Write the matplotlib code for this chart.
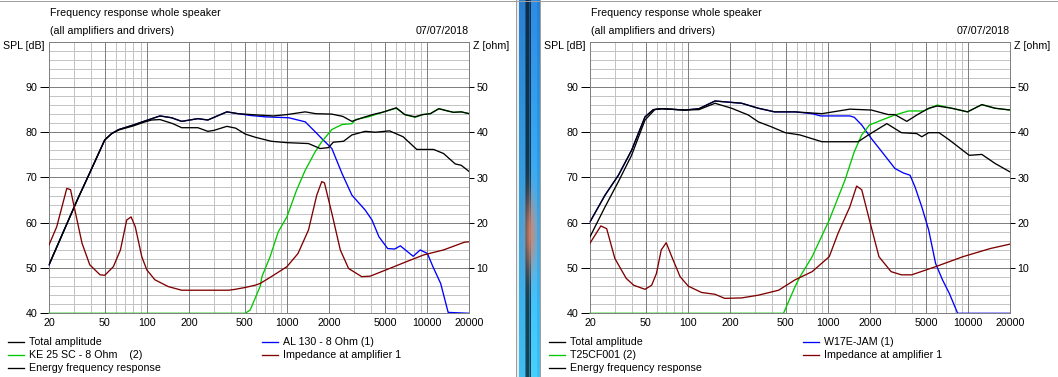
import matplotlib.pyplot as plt
from matplotlib.lines import Line2D
from matplotlib.ticker import NullLocator
import numpy as np

plt.rcParams['font.family'] = ['Liberation Sans', 'DejaVu Sans']
plt.rcParams['font.size'] = 7.7

W, H = 1058, 377

# ---------- left panel: AL 130 woofer + KE 25 SC tweeter ----------
L_total_f = [20, 26, 32, 38, 50, 56, 63, 80, 97, 124, 150, 177, 231, 272, 372, 447, 620, 800,
             1000, 1348, 1600, 2089, 2500, 2904, 3300, 3615, 4200, 4788, 5500, 6021, 6922, 8200,
             9300, 10540, 12130, 14000, 15440, 17500, 20000]
L_total_db = [50.7, 58.8, 65.2, 70.2, 78.3, 79.7, 80.6, 81.6, 82.5, 83.6, 83.2, 82.4, 83.0, 82.7,
              84.5, 84.1, 83.8, 83.6, 83.9, 84.5, 84.1, 84.0, 83.5, 82.4, 83.0, 83.4, 84.0, 84.4,
              85.0, 85.4, 83.9, 83.4, 83.9, 84.1, 85.2, 84.7, 84.4, 84.5, 84.1]

L_energy_f = [20, 26, 32, 38, 50, 56, 63, 80, 97, 108, 124, 153, 177, 231, 272, 300, 372, 430,
              503, 592, 773, 998, 1423, 1723, 1975, 2140, 2530, 2904, 3615, 4275, 5390, 6740,
              8430, 11120, 13100, 15870, 17500, 20000]
L_energy_db = [50.7, 58.8, 65.2, 70.2, 78.3, 79.7, 80.5, 81.4, 82.3, 82.7, 82.8, 81.9, 81.0, 81.0,
               80.2, 80.4, 81.3, 80.9, 79.6, 78.9, 78.0, 77.7, 77.5, 76.4, 76.6, 77.8, 78.0, 79.4,
               80.2, 80.0, 80.3, 79.0, 76.2, 76.2, 75.3, 73.0, 72.7, 71.3]

L_woofer_f = [20, 26, 32, 38, 50, 56, 63, 80, 97, 124, 150, 177, 231, 272, 372, 447, 550, 698,
              1028, 1348, 1589, 1770, 2089, 2468, 2904, 3615, 4042, 4530, 5230, 5860, 6440, 7950,
              8930, 10050, 11000, 12490, 14130, 20000]
L_woofer_db = [50.7, 58.8, 65.2, 70.2, 78.3, 79.7, 80.6, 81.6, 82.5, 83.6, 83.2, 82.4, 83.0, 82.7,
               84.5, 84.1, 83.7, 83.4, 83.2, 82.3, 80.1, 78.6, 76.4, 70.9, 66.1, 62.8, 60.6, 56.9,
               54.3, 54.2, 54.9, 52.6, 54.0, 53.2, 50.3, 46.6, 40.2, 40.0]

L_tweeter_f = [20, 502, 545, 592, 644, 662, 757, 866, 998, 1170, 1348, 1589, 1770, 2089, 2468,
               2904, 3080, 3810, 4788, 6021, 6922, 8200, 9300, 10540, 12130, 14000, 15440, 17500, 20000]
L_tweeter_db = [40.0, 40.0, 40.7, 43.3, 46.0, 48.1, 52.5, 58.0, 61.3, 67.2, 71.6, 75.7, 77.9, 80.6,
                81.7, 81.9, 82.8, 83.4, 84.4, 85.3, 83.9, 83.3, 83.9, 84.1, 85.2, 84.7, 84.4, 84.5, 84.1]

L_imp_f = [20, 22.7, 26.8, 28.5, 30.6, 34.4, 39.1, 46.3, 50, 57.6, 64.7, 71.7, 77.1, 82.6, 91.9,
           99.8, 114, 142, 177, 246, 383, 427, 502, 592, 644, 773, 998, 1197, 1423, 1630, 1770,
           1850, 2089, 2400, 2750, 3410, 3920, 5390, 7110, 9460, 13100, 18440, 20000]
L_imp_ohm = [15.1, 19.1, 27.6, 27.3, 22.8, 15.5, 10.7, 8.5, 8.4, 10.3, 14.0, 20.6, 21.3, 19.1, 12.5,
             9.6, 7.4, 5.9, 5.1, 5.1, 5.1, 5.3, 5.7, 6.2, 6.6, 8.1, 10.3, 13.2, 18.4, 26.1, 29.1,
             28.8, 22.1, 14.0, 9.9, 8.1, 8.2, 9.9, 11.4, 12.9, 14.0, 15.7, 15.8]

# ---------- right panel: W17E-JAM woofer + T25CF001 tweeter ----------
R_total_f = [20, 25.6, 31.9, 39.6, 49.4, 56.7, 65, 95, 120, 156, 242, 318, 416, 582, 905, 1430,
             2040, 2690, 3000, 3650, 4300, 5230, 6020, 7640, 9900, 12530, 15580, 20000]
R_total_db = [60.2, 66.1, 70.5, 76.0, 83.4, 85.0, 85.2, 84.9, 85.2, 86.9, 86.4, 85.3, 84.5, 84.5,
              84.1, 85.1, 84.9, 83.9, 83.9, 82.4, 83.8, 85.3, 85.8, 85.3, 84.5, 86.1, 85.3, 84.9]

R_energy_f = [20, 25.6, 31.9, 39.6, 49.4, 58, 65, 95, 120, 156, 205, 270, 318, 394, 495, 631, 905,
              1640, 1940, 2630, 3340, 4300, 4670, 5230, 6200, 7340, 10180, 12530, 15580, 20000]
R_energy_db = [56.9, 63.5, 69.1, 74.9, 82.7, 85.0, 85.2, 84.9, 85.0, 86.4, 85.3, 83.8, 82.3, 81.2,
               79.9, 79.4, 77.9, 77.9, 79.4, 81.9, 79.9, 79.7, 79.0, 79.9, 79.9, 78.3, 74.9, 75.1,
               73.1, 71.2]

R_woofer_f = [20, 25.6, 31.9, 39.6, 49.4, 56.7, 65, 95, 120, 156, 242, 318, 416, 582, 770, 886,
              1430, 1540, 1740, 2040, 2420, 3000, 3450, 3850, 4180, 4670, 5230, 5860, 6560, 7340,
              8420, 20000]
R_woofer_db = [60.2, 66.1, 70.5, 76.0, 83.4, 85.0, 85.2, 84.9, 85.2, 86.9, 86.4, 85.3, 84.5, 84.5,
               84.1, 83.6, 83.6, 83.3, 81.6, 78.6, 75.7, 72.0, 71.0, 70.5, 67.9, 63.5, 58.4, 51.0,
               47.4, 44.4, 40.0, 40.0]

R_tweeter_f = [20, 481, 582, 631, 770, 1020, 1320, 1540, 1740, 1975, 2420, 3000, 3750, 4800, 6020,
               7640, 9900, 12530, 15580, 20000]
R_tweeter_db = [40.0, 40.0, 45.9, 48.1, 52.5, 60.6, 69.4, 75.7, 79.4, 81.6, 82.7, 83.8, 84.7, 84.7,
                86.0, 85.3, 84.5, 86.1, 85.3, 84.9]

R_imp_f = [20, 23.9, 26.3, 30.1, 36.3, 41, 49.4, 55.1, 59.6, 64.5, 70, 76.7, 87.9, 100.6, 125,
           156, 183, 242, 318, 444, 582, 770, 1020, 1180, 1430, 1600, 1740, 1975, 2310, 2820,
           3340, 3960, 5860, 9170, 14360, 20000]
R_imp_ohm = [15.5, 19.3, 18.7, 12.1, 7.7, 6.2, 5.3, 6.2, 8.8, 14.0, 15.6, 12.5, 8.1, 6.0, 4.6,
             4.2, 3.3, 3.4, 4.0, 5.1, 7.4, 9.2, 12.5, 17.7, 23.5, 28.1, 27.3, 20.6, 12.5, 9.2,
             8.5, 8.5, 10.3, 12.5, 14.3, 15.3]

freq_ticks = [20, 50, 100, 200, 500, 1000, 2000, 5000, 10000, 20000]
freq_minor = [30, 40, 60, 70, 80, 90, 300, 400, 600, 700, 800, 900,
              3000, 4000, 6000, 7000, 8000, 9000]
spl_ticks = [40, 50, 60, 70, 80, 90]
z_ticks = [10, 20, 30, 40, 50]

GREEN = '#00c800'
BLUE = '#0000ff'
RED = '#800000'
DARK = '#808080'
LIGHT = '#c4c4c4'
PX = 0.72


def fx(x):
    return x / W


def fy(y):
    return 1 - y / H


def draw_panel(fig, x0, total, energy, woofer, tweeter, imp, names):
    ax = fig.add_axes([fx(x0), fy(313.3), 420.3 / W, (313.3 - 41.7) / H])
    ax.set_xscale('log')
    ax.set_xlim(20, 20000)
    ax.set_ylim(40, 100)

    for f in freq_minor:
        ax.axvline(f, color=LIGHT, lw=PX, zorder=0)
    for f in freq_ticks[1:-1]:
        ax.axvline(f, color=DARK, lw=PX, zorder=0.5)
    for v in range(42, 100, 2):
        if v % 10:
            ax.axhline(v, color=LIGHT, lw=PX, zorder=0)
    for v in spl_ticks[1:]:
        ax.axhline(v, color=DARK, lw=PX, zorder=0.5)
    for s in ax.spines.values():
        s.set_color(DARK)
        s.set_linewidth(PX)

    ax.set_xticks(freq_ticks)
    ax.set_xticklabels([str(t) for t in freq_ticks])
    ax.xaxis.set_minor_locator(NullLocator())
    ax.tick_params(axis='x', length=0, pad=3.3)
    ax.set_yticks(spl_ticks)
    ax.yaxis.set_minor_locator(NullLocator())
    ax.tick_params(axis='y', length=6.8, width=PX, color='black', pad=1.5)

    lw = 0.95
    ax.plot(*woofer, color=BLUE, lw=lw, zorder=2, clip_on=False)
    ax.plot(*tweeter, color=GREEN, lw=lw, zorder=2.5, clip_on=False)
    ax.plot(*energy, color='black', lw=lw, zorder=3)
    ax.plot(*total, color='black', lw=lw, zorder=3)

    ax2 = ax.twinx()
    ax2.set_ylim(0, 60)
    ax2.set_yticks(z_ticks)
    ax2.yaxis.set_minor_locator(NullLocator())
    ax2.tick_params(axis='y', length=3.6, width=PX, color='black', pad=1.5)
    for s in ax2.spines.values():
        s.set_visible(False)
    ax2.plot(*imp, color=RED, lw=lw)

    fig.text(fx(x0 + 1), fy(13), 'Frequency response whole speaker', va='center')
    fig.text(fx(x0 + 1), fy(31), '(all amplifiers and drivers)', va='center')
    fig.text(fx(x0 + 420), fy(31), '07/07/2018', va='center', ha='right')
    fig.text(fx(x0 - 46), fy(46), 'SPL [dB]', va='center')
    fig.text(fx(x0 + 424), fy(46), 'Z [ohm]', va='center')

    rows = [(x0 - 41, 341.7, 'black', names[0]),
            (x0 - 41, 355.0, GREEN, names[1]),
            (x0 - 41, 368.3, 'black', names[2]),
            (x0 + 213, 341.7, BLUE, names[3]),
            (x0 + 213, 355.0, RED, names[4])]
    for lx, ly, c, label in rows:
        fig.add_artist(Line2D([fx(lx), fx(lx + 16)], [fy(ly), fy(ly)], color=c, lw=lw,
                              transform=fig.transFigure))
        fig.text(fx(lx + 21), fy(ly), label, va='center')


fig = plt.figure(figsize=(W / 100, H / 100), dpi=100)
fig.add_artist(Line2D([0, 1], [fy(0.5), fy(0.5)], color='#a0a0a0', lw=PX,
                      transform=fig.transFigure))

draw_panel(fig, 49, (L_total_f, L_total_db), (L_energy_f, L_energy_db),
           (L_woofer_f, L_woofer_db), (L_tweeter_f, L_tweeter_db), (L_imp_f, L_imp_ohm),
           ['Total amplitude', 'KE 25 SC - 8 Ohm    (2)', 'Energy frequency response',
            'AL 130 - 8 Ohm (1)', 'Impedance at amplifier 1'])
draw_panel(fig, 590, (R_total_f, R_total_db), (R_energy_f, R_energy_db),
           (R_woofer_f, R_woofer_db), (R_tweeter_f, R_tweeter_db), (R_imp_f, R_imp_ohm),
           ['Total amplitude', 'T25CF001 (2)', 'Energy frequency response',
            'W17E-JAM (1)', 'Impedance at amplifier 1'])

# window divider strip between the two panels
yy = np.linspace(0, 1, H)[:, None]
cols = np.arange(25)[None, :]
base = np.array([0.16, 0.50, 0.82])
low = np.array([0.25, 0.75, 0.95])
img = base[None, None, :] * (1 - yy[..., None]) + low[None, None, :] * yy[..., None]
img = np.repeat(img, 25, axis=1)
shade = np.ones(25)
shade[[10, 11, 12, 14]] = 0.35
shade[[9, 13]] = 0.65
shade[15:21] = 1.1
img = np.clip(img * shade[None, :, None], 0, 1)
orange = np.array([0.87, 0.52, 0.40])
wy = np.exp(-((yy - 0.62) / 0.1) ** 2) * np.exp(-((cols - 14) / 6.0) ** 2)
img = img * (1 - wy[..., None] * 0.85) + orange * wy[..., None] * 0.85
img[:, 0] = 0.62
img[:, 1:3] = 0.92
img[:, 24] = 0.62
dax = fig.add_axes([fx(516), 0, 25 / W, 1])
dax.imshow(img, aspect='auto', interpolation='nearest')
dax.axis('off')

fig.savefig('out.png', dpi=100)
